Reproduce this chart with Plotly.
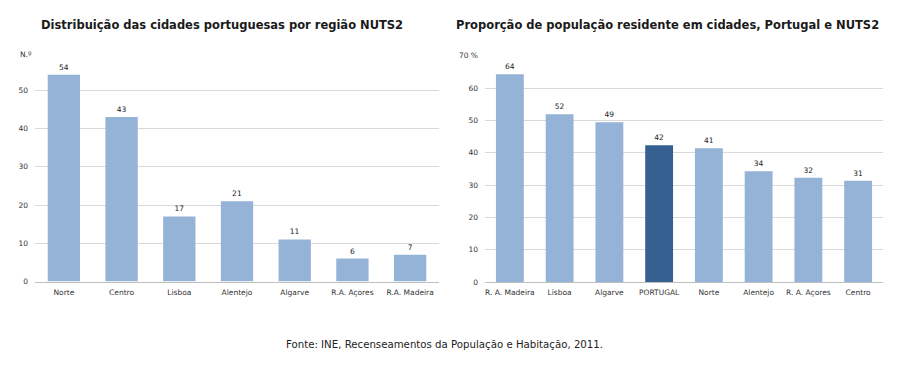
import plotly.graph_objects as go

# Left chart: number of cities by NUTS2 region
left_categories = ["Norte", "Centro", "Lisboa", "Alentejo", "Algarve", "R.A. Açores", "R.A. Madeira"]
left_values = [54, 43, 17, 21, 11, 6, 7]
left_ticks = [0, 10, 20, 30, 40, 50]

# Right chart: share of population living in cities (%)
right_categories = ["R. A. Madeira", "Lisboa", "Algarve", "PORTUGAL", "Norte", "Alentejo", "R. A. Açores", "Centro"]
right_values = [64.3, 51.9, 49.4, 42.3, 41.4, 34.3, 32.3, 31.3]
right_ticks = [0, 10, 20, 30, 40, 50, 60, 70]
right_ticktext = ["0", "10", "20", "30", "40", "50", "60", "70 %"]

LIGHT = "#95B3D7"
DARK = "#366092"
FONT = "DejaVu Sans"
TICK = 7.5

fig = go.Figure()
fig.add_trace(go.Bar(
    x=left_categories, y=left_values, xaxis="x", yaxis="y",
    marker=dict(color=LIGHT, line=dict(width=0)),
    text=[str(v) for v in left_values], textposition="outside",
    textfont=dict(family=FONT, size=TICK, color="#222222"), cliponaxis=False,
    showlegend=False,
))
fig.add_trace(go.Bar(
    x=right_categories, y=right_values, xaxis="x2", yaxis="y2",
    marker=dict(color=[DARK if c == "PORTUGAL" else LIGHT for c in right_categories], line=dict(width=0)),
    text=[str(round(v)) for v in right_values], textposition="outside",
    textfont=dict(family=FONT, size=TICK, color="#222222"), cliponaxis=False,
    showlegend=False,
))

axis_common = dict(
    showgrid=False, showline=True, linecolor="#BFBFBF", linewidth=1,
    ticks="", tickfont=dict(family=FONT, size=TICK, color="#333333"),
    fixedrange=True, ticklabelstandoff=3,
)
yaxis_common = dict(
    showgrid=True, gridcolor="#D9D9D9", gridwidth=1, zeroline=False,
    showline=False, ticks="", tickfont=dict(family=FONT, size=TICK, color="#333333"),
    fixedrange=True, ticklabelstandoff=6,
)

fig.update_layout(
    width=900, height=371,
    margin=dict(l=0, r=0, t=0, b=0),
    paper_bgcolor="white", plot_bgcolor="white",
    bargap=0.44,
    xaxis=dict(domain=[35 / 900, 439 / 900], anchor="y", **axis_common),
    yaxis=dict(domain=[1 - 284.5 / 371, 1 - 49 / 371], range=[0, 60], anchor="x",
               tickvals=left_ticks, **yaxis_common),
    xaxis2=dict(domain=[485 / 900, 883 / 900], anchor="y2", **axis_common),
    yaxis2=dict(domain=[1 - 285 / 371, 1 - 53 / 371], range=[0, 70], anchor="x2",
                tickvals=right_ticks, ticktext=right_ticktext, **yaxis_common),
    annotations=[
        dict(text="<b>Distribuição das cidades portuguesas por região NUTS2</b>",
             x=222 / 900, y=1 - 22 / 371, xref="paper", yref="paper", showarrow=False,
             font=dict(family=FONT, size=11.5, color="#1a1a1a"), xanchor="center", yanchor="middle"),
        dict(text="<b>Proporção de população residente em cidades, Portugal e NUTS2</b>",
             x=667 / 900, y=1 - 22 / 371, xref="paper", yref="paper", showarrow=False,
             font=dict(family=FONT, size=11.5, color="#1a1a1a"), xanchor="center", yanchor="middle"),
        dict(text="N.º", x=18 / 900, y=1 - 52 / 371, xref="paper", yref="paper", showarrow=False,
             font=dict(family=FONT, size=TICK, color="#333333"), xanchor="left", yanchor="middle"),
        dict(text="Fonte: INE, Recenseamentos da População e Habitação, 2011.",
             x=444 / 900, y=1 - 349 / 371, xref="paper", yref="paper", showarrow=False,
             font=dict(family=FONT, size=10.2, color="#222222"), xanchor="center", yanchor="middle"),
    ],
)

fig.write_html(
    "out.html",
    config={"displayModeBar": False, "staticPlot": True},
    post_script=(
        "document.documentElement.style.margin='0';"
        "document.body.style.margin='0';"
        "document.documentElement.style.overflow='hidden';"
        "document.body.style.overflow='hidden';"
        "var d=document.getElementById('{plot_id}');"
        "d.style.position='fixed';d.style.top='0';d.style.left='0';"
    ),
)
